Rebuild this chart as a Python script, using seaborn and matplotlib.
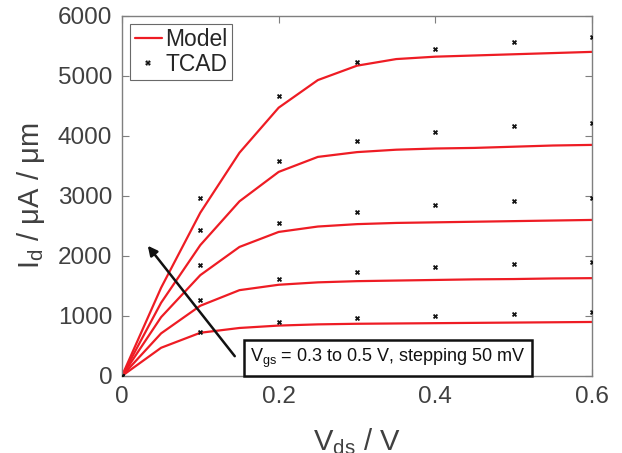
import numpy as np
import pandas as pd
import seaborn as sns
import matplotlib
matplotlib.use("Agg")
import matplotlib.pyplot as plt
from matplotlib.lines import Line2D

# ---- data ----
vgs_values = [0.3, 0.35, 0.4, 0.45, 0.5]
vds_model = [0, 0.05, 0.1, 0.15, 0.2, 0.25, 0.3, 0.35, 0.4, 0.45, 0.5, 0.55, 0.6]
model_030 = [0, 470, 720, 800, 840, 860, 870, 875, 880, 885, 890, 895, 900]
model_035 = [0, 710, 1170, 1430, 1520, 1560, 1580, 1590, 1600, 1610, 1615, 1625, 1630]
model_040 = [0, 980, 1680, 2150, 2400, 2490, 2530, 2550, 2560, 2570, 2580, 2590, 2600]
model_045 = [0, 1220, 2180, 2910, 3400, 3650, 3730, 3770, 3790, 3800, 3820, 3840, 3850]
model_050 = [0, 1470, 2720, 3720, 4470, 4930, 5170, 5280, 5320, 5340, 5360, 5380, 5400]

vds_tcad = [0, 0.1, 0.2, 0.3, 0.4, 0.5, 0.6]
tcad_030 = [0, 730, 900, 970, 1000, 1040, 1070]
tcad_035 = [0, 1270, 1620, 1730, 1810, 1870, 1900]
tcad_040 = [0, 1850, 2550, 2740, 2850, 2920, 2960]
tcad_045 = [0, 2430, 3580, 3920, 4070, 4170, 4220]
tcad_050 = [0, 2960, 4670, 5230, 5450, 5570, 5650]

x_ticks = [0, 0.2, 0.4, 0.6]
x_tick_labels = ["0", "0.2", "0.4", "0.6"]
y_ticks = [0, 1000, 2000, 3000, 4000, 5000, 6000]

model_series = [model_030, model_035, model_040, model_045, model_050]
tcad_series = [tcad_030, tcad_035, tcad_040, tcad_045, tcad_050]

model_df = pd.concat([
    pd.DataFrame({"vds": vds_model, "id": s, "vgs": v})
    for v, s in zip(vgs_values, model_series)
])
tcad_df = pd.concat([
    pd.DataFrame({"vds": vds_tcad, "id": s, "vgs": v})
    for v, s in zip(vgs_values, tcad_series)
])

# ---- style ----
sns.set_style("white")
plt.rcParams["font.family"] = ["Liberation Sans", "DejaVu Sans"]
plt.rcParams["mathtext.fontset"] = "custom"
plt.rcParams["mathtext.rm"] = "Liberation Sans"
plt.rcParams["mathtext.it"] = "Liberation Sans"

fig = plt.figure(figsize=(6.22, 4.53), dpi=100)
ax = fig.add_axes([0.196, 0.170, 0.756, 0.795])

red = "#ee1c24"
sns.lineplot(data=model_df, x="vds", y="id", units="vgs", estimator=None,
             color=red, linewidth=1.6, ax=ax, legend=False, sort=False)
sns.scatterplot(data=tcad_df, x="vds", y="id", color="#111111", marker="X",
                s=14, linewidth=0, ax=ax, legend=False, zorder=3)

ax.set_xlim(0, 0.6)
ax.set_ylim(0, 6000)
ax.set_xticks(x_ticks)
ax.set_xticklabels(x_tick_labels)
ax.set_yticks(y_ticks)

grey = "#7f7f7f"
for sp in ax.spines.values():
    sp.set_color(grey)
    sp.set_linewidth(1.0)
ax.tick_params(direction="in", length=5, width=0.8, color=grey,
               labelsize=17.5, labelcolor="#404040", top=True, right=True,
               left=True, bottom=True, pad=7)

ax.set_xlabel(r"V$_{\mathregular{ds}}$ / V", fontsize=21, color="#404040", labelpad=13)
ax.set_ylabel(r"I$_{\mathregular{d}}$ / μA / μm", fontsize=21, color="#404040", labelpad=8)

# annotation arrow
ax.annotate("", xy=(0.033, 2170), xytext=(0.144, 330),
            arrowprops=dict(arrowstyle="-|>", color="#111111", lw=1.8,
                            mutation_scale=14, shrinkA=0, shrinkB=0))
ax.text(0.164, 300, r"V$_{\mathregular{gs}}$ = 0.3 to 0.5 V, stepping 50 mV",
        fontsize=13, color="#111111", va="center", ha="left",
        bbox=dict(boxstyle="square,pad=0.35", fc="white", ec="#111111", lw=1.8))

handles = [
    Line2D([0], [0], color=red, lw=1.6, label="Model"),
    Line2D([0], [0], color="#111111", marker="X", markersize=4, lw=0,
           markeredgewidth=0, label="TCAD"),
]
leg = ax.legend(handles=handles, loc="upper left", fontsize=16.5,
                frameon=True, fancybox=False, edgecolor="#444444",
                handlelength=1.2, handletextpad=0.15, borderpad=0.2,
                labelspacing=0.05, borderaxespad=0.35)
leg.get_frame().set_linewidth(0.8)

fig.savefig("out.png", dpi=100)
